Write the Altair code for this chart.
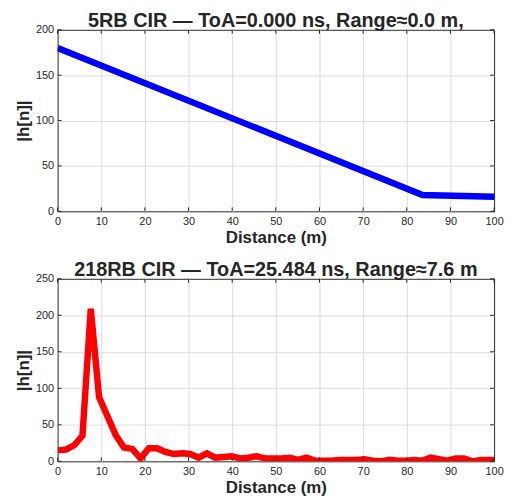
import altair as alt
import pandas as pd

# Top panel (5RB)
top_x = [0.0, 83.6, 100.0]
top_y = [180.0, 18.0, 16.0]

# Bottom panel (218RB), sampled every ~1.9 m
bot_step = 1.9
bot_y = [15, 16, 22, 35, 209, 88, 62, 36, 19, 17, 4, 18, 18, 13, 10, 11, 10, 5,
         11, 5, 6, 7, 4, 5, 7, 4, 4, 4, 5, 2, 5, 1, 1, 1, 2, 2, 2, 3, 1, 0, 2, 1,
         1, 2, 1, 5, 3, 1, 4, 4, 0, 2, 2, 2]
bot_x = [round(i * bot_step, 2) for i in range(len(bot_y))]

x_ticks = list(range(0, 101, 10))
top_y_ticks = [0, 50, 100, 150, 200]
bot_y_ticks = [0, 50, 100, 150, 200, 250]

top_title = "5RB CIR — ToA=0.000 ns, Range≈0.0 m,"
bot_title = "218RB CIR — ToA=25.484 ns, Range≈7.6 m"

FONT = "Liberation Sans"
W = 440
TICK = 4
EDGE = "#262626"


def panel(xs, ys, color, title, yticks, h):
    ymax = yticks[-1]
    xsc = alt.Scale(domain=[0, 100], nice=False)
    ysc = alt.Scale(domain=[0, ymax], nice=False)
    xax = alt.Axis(title="Distance (m)", values=x_ticks, ticks=False, domain=False,
                   labelOverlap=False, labelFlush=False,
                   gridOpacity={"condition": {"test": "datum.value == 0 || datum.value == 100",
                                              "value": 0}, "value": 1})
    yax = alt.Axis(title="|h[n]|", values=yticks, ticks=False, domain=False,
                   labelOverlap=False, labelFlush=False,
                   gridOpacity={"condition": {"test": f"datum.value == 0 || datum.value == {ymax}",
                                              "value": 0}, "value": 1})
    df = pd.DataFrame({"x": xs, "y": ys})
    line = alt.Chart(df).mark_line(
        color=color, strokeWidth=6.5, clip=True, strokeJoin="miter"
    ).encode(
        x=alt.X("x:Q", scale=xsc, axis=xax),
        y=alt.Y("y:Q", scale=ysc, axis=yax),
    )
    xt = pd.DataFrame({"x": x_ticks})
    yt = pd.DataFrame({"y": yticks})
    xb = alt.Chart(xt).mark_rule(color=EDGE, strokeWidth=1).encode(
        x=alt.X("x:Q", scale=xsc, axis=xax), y=alt.value(h), y2=alt.value(h - TICK))
    xtop = alt.Chart(xt).mark_rule(color=EDGE, strokeWidth=1).encode(
        x=alt.X("x:Q", scale=xsc, axis=xax), y=alt.value(0), y2=alt.value(TICK))
    yl = alt.Chart(yt).mark_rule(color=EDGE, strokeWidth=1).encode(
        y=alt.Y("y:Q", scale=ysc, axis=yax), x=alt.value(0), x2=alt.value(TICK))
    yr = alt.Chart(yt).mark_rule(color=EDGE, strokeWidth=1).encode(
        y=alt.Y("y:Q", scale=ysc, axis=yax), x=alt.value(W), x2=alt.value(W - TICK))
    return alt.layer(line, xb, xtop, yl, yr).properties(
        width=W, height=h,
        title=alt.TitleParams(title, fontSize=20, fontWeight="bold", font=FONT,
                              color="#262626", offset=-7),
    )


top = panel(top_x, top_y, "#0000FF", top_title, top_y_ticks, 183)
bot = panel(bot_x, bot_y, "#FF0000", bot_title, bot_y_ticks, 184)

chart = alt.vconcat(top, bot, spacing=13).configure(
    padding={"left": 6, "top": 0, "right": 3, "bottom": 0}
).configure_view(
    stroke=EDGE, strokeWidth=1
).configure_axis(
    labelFont=FONT, labelFontSize=11, labelColor="#262626",
    titleFont=FONT, titleFontSize=17, titleFontWeight="bold", titleColor="#262626",
    gridColor="#dcdcdc", gridWidth=1, labelPadding=4, titlePadding=3,
)

chart.save("out.html", embed_options={"renderer": "svg", "actions": False})
